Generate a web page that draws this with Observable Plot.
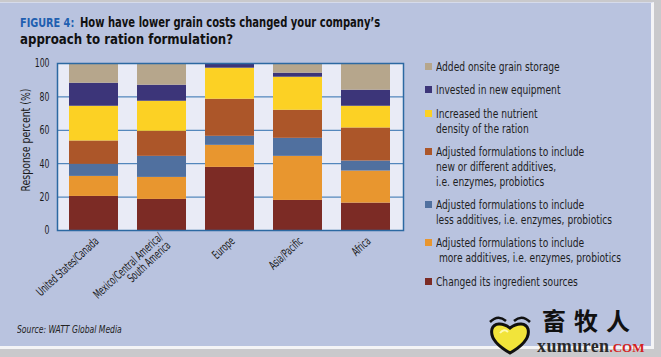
<!DOCTYPE html>
<html>
<head>
<meta charset="utf-8">
<script src="https://cdn.jsdelivr.net/npm/d3@7"></script>
<script src="https://cdn.jsdelivr.net/npm/@observablehq/plot@0.6"></script>
<style>
  html, body { margin: 0; padding: 0; }
  body { width: 661px; height: 357px; background: #c9c9cc; position: relative; overflow: hidden;
         font-family: "DejaVu Sans Condensed", "DejaVu Sans", sans-serif; }
  #panel { position: absolute; left: 0; top: 2px; width: 651px; height: 343px; background: #b9c3df;
           border-right: 3px solid #f4f4f6; border-bottom: 3px solid #f4f4f6; border-top: 1px solid #d6dbeb; }
  .t { position: absolute; font-weight: bold; font-size: 14.5px; line-height: 17px; color: #111; white-space: nowrap;
       transform-origin: left top; }
  #fig { position: absolute; left: 20px; top: 16px; font-weight: bold; font-size: 12px; line-height: 14px; color: #1f5fb0; white-space: nowrap;
         transform: scaleX(0.9); transform-origin: left top; }
  #t1 { left: 80px; top: 13.5px; transform: scaleX(0.767); }
  #t2 { left: 20px; top: 30.5px; transform: scaleX(0.905); }
  #chart { position: absolute; left: 0; top: 55px; }
  #ylabel { position: absolute; left: 25px; top: 140px; transform: translate(-50%, -50%) rotate(-90deg) scaleX(0.8);
            font-size: 13px; color: #1a1a1a; white-space: nowrap; }
  #legend { position: absolute; left: 425px; top: 59px; font-size: 13px; color: #1e1e1e; }
  .item { position: relative; padding-left: 11px; line-height: 15px; margin-bottom: 8.3px; white-space: nowrap; }
  .item .txt { display: inline-block; transform: scaleX(0.78); transform-origin: left top; }
  .sw { position: absolute; left: 0; top: 4px; width: 7px; height: 7px; }
  #source { position: absolute; left: 17px; top: 324px; font-size: 10px; font-style: italic; color: #222;
            transform: scaleX(0.85); transform-origin: left top; white-space: nowrap; }
  #logo { position: absolute; left: 486px; top: 310px; width: 170px; height: 46px; }
  #logo .cn { position: absolute; left: 56px; top: -8px; font-family: "Noto Sans CJK SC", sans-serif; font-weight: bold;
              font-size: 24px; letter-spacing: 8px; color: #111; line-height: normal; }
  #logo .en { position: absolute; left: 51px; top: 27px; font-family: "Liberation Serif", "DejaVu Serif", serif; font-weight: bold;
              font-size: 18px; color: #2a2a2a; line-height: 19px; letter-spacing: 0.4px; white-space: nowrap; }
  #logo .en span { color: #d42020; font-size: 13px; letter-spacing: 0; }
</style>
</head>
<body>
<div id="panel"></div>
<div id="fig">FIGURE 4:</div>
<div id="t1" class="t">How have lower grain costs changed your company’s</div>
<div id="t2" class="t">approach to ration formulation?</div>
<div id="chart"></div>
<div id="ylabel">Response percent (%)</div>
<div id="legend"></div>
<div id="source">Source: WATT Global Media</div>
<div id="logo">
  <svg width="48" height="42" viewBox="0 0 48 42" style="position:absolute;left:0;top:3px">
    <path d="M4 9 Q12 1 20 8" fill="none" stroke="#111" stroke-width="2.5"/>
    <path d="M28 8 Q36 1 44 9" fill="none" stroke="#111" stroke-width="2.5"/>
    <path d="M24 40 C10 32 4 24 6 16 C8 10 16 9 24 15 C32 9 40 10 42 16 C44 24 38 32 24 40 Z" fill="#f2e43a" stroke="#111" stroke-width="3"/>
    <path d="M14 20 Q18 15 22 19" fill="none" stroke="#fffbb0" stroke-width="2"/>
  </svg>
  <div class="cn">畜牧人</div>
  <div class="en">xumuren<span>.COM</span></div>
</div>
<script>
// ---- data ----
const categories = ["United States/Canada", "Mexico/Central America/\nSouth America", "Europe", "Asia/Pacific", "Africa"];
// series listed bottom to top of the stack
const seriesNames = [
  "Changed its ingredient sources",
  "Adjusted formulations to include more additives, i.e. enzymes, probiotics",
  "Adjusted formulations to include less additives, i.e. enzymes, probiotics",
  "Adjusted formulations to include new or different additives, i.e. enzymes, probiotics",
  "Increased the nutrient density of the ration",
  "Invested in new equipment",
  "Added onsite grain storage"
];
const ingredientSources = [20.4, 18.6, 37.8, 18.0, 16.4];
const moreAdditives     = [12.0, 13.2, 13.2, 26.4, 19.2];
const lessAdditives     = [7.2, 12.6, 5.4, 10.8, 6.0];
const newAdditives      = [14.0, 15.0, 22.2, 16.8, 19.8];
const nutrientDensity   = [20.8, 18.0, 18.6, 19.8, 13.0];
const newEquipment      = [13.8, 9.6, 2.8, 2.4, 9.6];
const grainStorage      = [11.8, 13.0, 0.0, 5.8, 16.0];
const yTicks = [0, 20, 40, 60, 80, 100];

// legend labels (top to bottom as shown)
const legendLabels = [
  ["Added onsite grain storage"],
  ["Invested in new equipment"],
  ["Increased the nutrient", "density of the ration"],
  ["Adjusted formulations to include", "new or different additives,", "i.e. enzymes, probiotics"],
  ["Adjusted formulations to include", "less additives, i.e. enzymes, probiotics"],
  ["Adjusted formulations to include", "\u00a0more additives, i.e. enzymes, probiotics"],
  ["Changed its ingredient sources"]
];

const colors = ["#7c2b25", "#e8962f", "#50709f", "#ac5629", "#fcd124", "#3c3579", "#b6a68c"];

const seriesValues = [ingredientSources, moreAdditives, lessAdditives, newAdditives, nutrientDensity, newEquipment, grainStorage];
const data = [];
seriesNames.forEach((s, i) => categories.forEach((c, j) => data.push({cat: c, series: s, value: seriesValues[i][j]})));

const font = '"DejaVu Sans Condensed", "DejaVu Sans", sans-serif';

const chart = Plot.plot({
  width: 420,
  height: 262,
  marginLeft: 57,
  marginRight: 17,
  marginTop: 8,
  marginBottom: 87,
  style: {background: "transparent", fontFamily: font, fontSize: "12px", color: "#1a1a1a", overflow: "visible"},
  x: {domain: categories, paddingInner: 0.275, paddingOuter: 0.145, label: null},
  y: {domain: [0, 100], label: null},
  color: {domain: seriesNames, range: colors},
  marks: [
    Plot.frame({fill: "#e9ebf6", stroke: "none"}),
    Plot.gridY(yTicks, {stroke: "#2f6fae", strokeOpacity: 1, strokeWidth: 1}),
    Plot.barY(data, Plot.stackY({x: "cat", y: "value", fill: "series", order: seriesNames})),
    Plot.frame({stroke: "#2c69a2", strokeWidth: 1.5}),
    Plot.axisY(yTicks, {tickSize: 0, tickPadding: 8, fontSize: 12, stroke: null}),
    Plot.axisX({tickSize: 0, tickRotate: -43, tickPadding: 9, dx: 3, fontSize: 12, lineHeight: 0.95})
  ]
});
// condense the axis tick texts (the installed fonts are wider than the original's)
chart.querySelectorAll('g[aria-label$="tick label"] text').forEach(t => {
  const isX = t.closest('g[aria-label^="x-axis"]') != null;
  const s = isX ? 0.68 : 0.72;
  const tr = t.getAttribute("transform");
  if (tr) t.setAttribute("transform", tr + ` scale(${s},1)`);
});
document.getElementById("chart").appendChild(chart);

// legend
const legend = document.getElementById("legend");
const order = [6, 5, 4, 3, 2, 1, 0];
order.forEach((si, k) => {
  const item = document.createElement("div");
  item.className = "item";
  const sw = document.createElement("span");
  sw.className = "sw";
  sw.style.background = colors[si];
  item.appendChild(sw);
  const txt = document.createElement("span");
  txt.className = "txt";
  legendLabels[k].forEach((line, li) => {
    if (li > 0) txt.appendChild(document.createElement("br"));
    txt.appendChild(document.createTextNode(line));
  });
  item.appendChild(txt);
  legend.appendChild(item);
});
</script>
</body>
</html>
